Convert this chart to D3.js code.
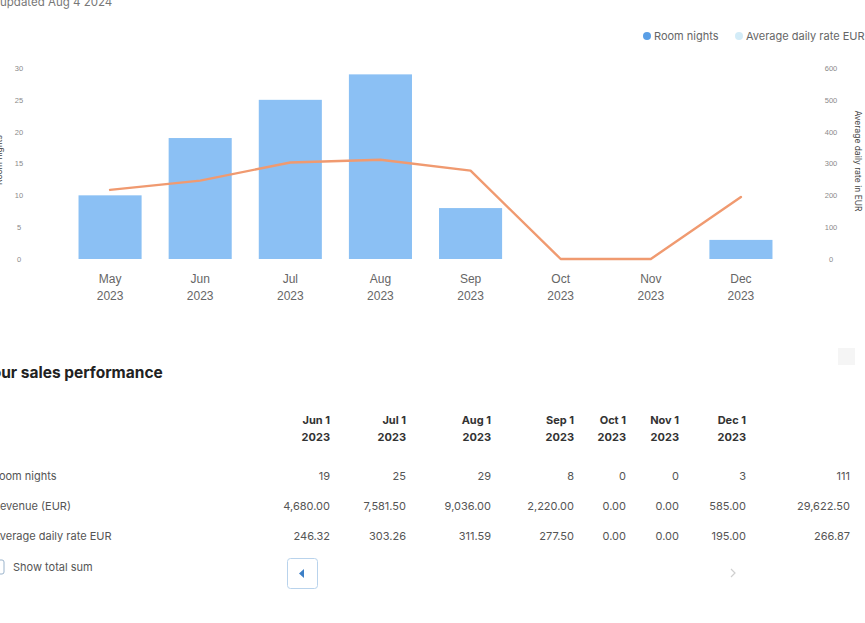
<!DOCTYPE html>
<html>
<head>
<meta charset="utf-8">
<script src="https://cdn.jsdelivr.net/npm/d3@7/dist/d3.min.js"></script>
<style>
  html, body { margin: 0; padding: 0; background: #ffffff; overflow: hidden; }
  svg { display: block; font-family: "Inter", "Open Sans", "Noto Sans", sans-serif; }
</style>
</head>
<body>
<svg id="chart" width="865" height="623"></svg>
<script>
// ---- Data ----
const months = ["May", "Jun", "Jul", "Aug", "Sep", "Oct", "Nov", "Dec"];
const monthYear = ["2023", "2023", "2023", "2023", "2023", "2023", "2023", "2023"];
const roomNights = [10, 19, 25, 29, 8, 0, 0, 3];
const avgDailyRate = [217, 246.32, 303.26, 311.59, 277.50, 0, 0, 195.00];
const leftTicks = [0, 5, 10, 15, 20, 25, 30];
const rightTicks = [0, 100, 200, 300, 400, 500, 600];

const tableCols = ["Jun 1", "Jul 1", "Aug 1", "Sep 1", "Oct 1", "Nov 1", "Dec 1", "total"];
const tableColYear = ["2023", "2023", "2023", "2023", "2023", "2023", "2023", ""];
const rowLabels = ["Room nights", "Revenue (EUR)", "Average daily rate EUR"];
const rowRoomNights = ["19", "25", "29", "8", "0", "0", "3", "111"];
const rowRevenue = ["4,680.00", "7,581.50", "9,036.00", "2,220.00", "0.00", "0.00", "585.00", "29,622.50"];
const rowADR = ["246.32", "303.26", "311.59", "277.50", "0.00", "0.00", "195.00", "266.87"];

// ---- Layout / style ----
const svg = d3.select("#chart");
const plot = { left: 65, right: 786, top: 68, bottom: 259 };
const barColor = "#8bc0f4";
const lineColor = "#f09a70";
const tickColor = "#8a8a8a";

// header
svg.append("text").attr("x", 0).attr("y", 6)
  .attr("font-size", 11.5).attr("fill", "#777").text("updated Aug 4 2024");

// legend
svg.append("circle").attr("cx", 647).attr("cy", 36).attr("r", 4).attr("fill", "#5a9fe6");
svg.append("text").attr("x", 654).attr("y", 40).attr("font-size", 11).attr("fill", "#666").text("Room nights");
svg.append("circle").attr("cx", 739).attr("cy", 36).attr("r", 4).attr("fill", "#d3ecf8");
svg.append("text").attr("x", 746).attr("y", 40).attr("font-size", 11).attr("fill", "#666").text("Average daily rate EUR");

// scales
const x = d3.scaleBand().domain(months).range([plot.left, plot.right])
  .paddingInner(0.3).paddingOuter(0.15);
const yL = d3.scaleLinear().domain([0, 30]).range([plot.bottom, plot.top]);
const yR = d3.scaleLinear().domain([0, 600]).range([plot.bottom, plot.top]);

// left axis
const axL = d3.axisLeft(yL).tickValues(leftTicks).tickSize(0).tickPadding(0);
const gL = svg.append("g").attr("transform", "translate(19,0)").call(axL);
gL.select(".domain").remove();
gL.selectAll("text").attr("fill", tickColor).attr("font-size", 7.5).attr("text-anchor", "middle").attr("font-family", "inherit");

// right axis
const axR = d3.axisRight(yR).tickValues(rightTicks).tickSize(0).tickPadding(0);
const gR = svg.append("g").attr("transform", "translate(831,0)").call(axR);
gR.select(".domain").remove();
gR.selectAll("text").attr("fill", tickColor).attr("font-size", 7.5).attr("text-anchor", "middle").attr("font-family", "inherit");

// axis titles
svg.append("text").attr("transform", "translate(2,160) rotate(-90)")
  .attr("text-anchor", "middle").attr("font-size", 8.5).attr("fill", "#444").text("Room nights");
svg.append("text").attr("transform", "translate(855,161) rotate(90)")
  .attr("text-anchor", "middle").attr("font-size", 8.5).attr("fill", "#444").text("Average daily rate in EUR");

// bars
svg.append("g").selectAll("rect").data(months).join("rect")
  .attr("x", d => x(d))
  .attr("width", x.bandwidth())
  .attr("y", (d, i) => yL(roomNights[i]))
  .attr("height", (d, i) => yL(0) - yL(roomNights[i]))
  .attr("fill", barColor);

// line
const line = d3.line()
  .x((d, i) => x(months[i]) + x.bandwidth() / 2)
  .y(d => yR(d));
svg.append("path").datum(avgDailyRate)
  .attr("d", line).attr("fill", "none")
  .attr("stroke", lineColor).attr("stroke-width", 2.4)
  .attr("stroke-linejoin", "round").attr("stroke-linecap", "round");

// x axis labels
const axX = d3.axisBottom(x).tickSize(0).tickPadding(0);
const gX = svg.append("g").attr("transform", "translate(0,271)").call(axX);
gX.select(".domain").remove();
gX.selectAll(".tick text").each(function(d, i) {
  const t = d3.select(this);
  t.text(null).attr("fill", "#666").attr("font-size", 12).attr("font-family", "inherit").attr("dy", null).attr("y", 0);
  t.append("tspan").attr("x", 0).attr("y", 12).text(d);
  t.append("tspan").attr("x", 0).attr("y", 29).text(monthYear[i]);
});

// ---- table section ----
svg.append("text").attr("x", -18).attr("y", 378)
  .attr("font-size", 15.5).attr("font-weight", "bold").attr("fill", "#222").text("Your sales performance");

svg.append("rect").attr("x", 838).attr("y", 348).attr("width", 17).attr("height", 17)
  .attr("fill", "#f5f5f5");

const colRights = [330, 406, 491, 574, 626, 679, 746, 850];
const colX = d3.scaleOrdinal().domain(tableCols).range(colRights);

const hdr = svg.append("g");
tableCols.forEach((c, i) => {
  if (c === "total") return;
  hdr.append("text").attr("x", colX(c)).attr("y", 424).attr("text-anchor", "end")
    .attr("font-size", 11).attr("font-weight", "bold").attr("fill", "#333").text(c);
  hdr.append("text").attr("x", colX(c)).attr("y", 441).attr("text-anchor", "end")
    .attr("font-size", 11).attr("font-weight", "bold").attr("fill", "#333").text(tableColYear[i]);
});

const rows = [rowRoomNights, rowRevenue, rowADR];
const rowY = d3.scalePoint().domain(rowLabels).range([480, 540]);
const labelOffsets = [-8, -7, -7];
rowLabels.forEach((lab, r) => {
  svg.append("text").attr("x", labelOffsets[r]).attr("y", rowY(lab))
    .attr("font-size", 11).attr("fill", "#555").text(lab);
  rows[r].forEach((v, i) => {
    svg.append("text").attr("x", colX(tableCols[i])).attr("y", rowY(lab))
      .attr("text-anchor", "end").attr("font-size", 11).attr("fill", "#555").text(v);
  });
});

// checkbox + label
svg.append("rect").attr("x", -8).attr("y", 560).attr("width", 12).attr("height", 14).attr("rx", 2)
  .attr("fill", "#fff").attr("stroke", "#9bb4cc").attr("stroke-width", 1);
svg.append("text").attr("x", 13).attr("y", 571).attr("font-size", 11).attr("fill", "#555").text("Show total sum");

// pager buttons
svg.append("rect").attr("x", 287.5).attr("y", 558.5).attr("width", 30).attr("height", 30).attr("rx", 3)
  .attr("fill", "#fff").attr("stroke", "#b9d3ec").attr("stroke-width", 1);
svg.append("path").attr("d", "M304,569 L299,573.5 L304,578 Z").attr("fill", "#3c7fc6");
svg.append("path").attr("d", "M731,569 L735,573 L731,577").attr("fill", "none").attr("stroke", "#cfcfcf").attr("stroke-width", 1.2);
</script>
</body>
</html>
